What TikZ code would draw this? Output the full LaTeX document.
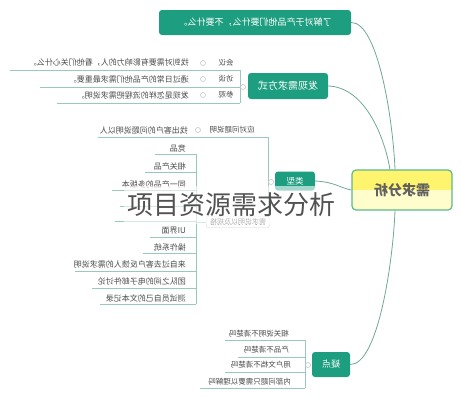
\documentclass[tikz,border=0pt]{standalone}
\usepackage{fontspec}
\setmainfont{Noto Sans CJK SC}
\usepackage{graphicx}
\newcommand\mirr[1]{\reflectbox{#1}}
\definecolor{tg}{HTML}{1E9E80}
\definecolor{ln}{HTML}{6FA898}
\definecolor{ul}{HTML}{9CC7BC}
\definecolor{tx}{HTML}{4A4A4A}
\definecolor{ybright}{HTML}{FFF46E}
\definecolor{ypale}{HTML}{FFFDCB}
\definecolor{ybord}{HTML}{5DB88A}
\begin{document}
\begin{tikzpicture}[x=1pt,y=-1pt,
 topic/.style={fill=tg, rounded corners=3pt, text=white, inner sep=0pt, font=\fontsize{9}{10}\selectfont},
 item/.style={text=tx, inner sep=0pt, font=\fontsize{8}{9}\selectfont, anchor=east},
 lab/.style={text=tx, inner sep=0pt, font=\fontsize{7.5}{9}\selectfont},
 knob/.style={circle, draw=gray!45, fill=white, inner sep=0pt, minimum size=5pt, line width=0.6pt},
 conn/.style={draw=ln, line width=0.8pt},
 uline/.style={draw=ul, line width=0.8pt},
]
\useasboundingbox (0,0) rectangle (462,400);

% centre
\begin{scope}
\clip[rounded corners=4pt] (352,170) rectangle (452,210);
\fill[ypale] (352,170) rectangle (452,210);
\fill[ybright] (352,170) rectangle (452,190);
\end{scope}
\node[draw=ybord, line width=1.2pt, rounded corners=4pt, minimum width=100pt, minimum height=40pt, inner sep=0pt, text=black!62, font=\fontsize{14}{16}\selectfont\bfseries] (cen) at (402,190) {\mirr{需求分析}};

% main topics
\node[topic, minimum width=192pt, minimum height=25pt] (top) at (255,22.5) {\mirr{了解对于产品他们要什么，不要什么。}};
\node[topic, minimum width=80pt, minimum height=26pt, font=\fontsize{10}{11}\selectfont] (fx) at (288,86) {\mirr{发现需求方式}};
\node[topic, minimum width=40pt, minimum height=19pt, font=\fontsize{8.5}{9}\selectfont] (lx) at (295,181) {\mirr{类型}};
\node[topic, minimum width=38pt, minimum height=25pt, font=\fontsize{9}{10}\selectfont] (yd) at (331,364.5) {\mirr{疑点}};

\draw[conn] (top.east) .. controls (378,22) and (393,120) .. ([xshift=-7pt]cen.north);
\draw[conn] (fx.east) .. controls (362,87) and (383,130) .. ([xshift=-12pt]cen.north);
\draw[conn] (lx.east) .. controls (335,182) and (340,188) .. (cen.west);
\draw[conn] (yd.east) .. controls (378,365) and (393,262) .. ([xshift=-7pt]cen.south);

% 发现需求方式 branch
\coordinate (f0) at (240,70);
\coordinate (f1) at (240,103);
\draw[uline] (f0) -- (f1);
\coordinate (fa) at (10,70);
\coordinate (fb) at (40,87);
\coordinate (fbb) at (240,87);
\coordinate (fc) at (57,103);
\draw[uline] (fa) -- (f0);
\draw[uline] (fb) -- (fbb);
\draw[uline] (fc) -- (f1);
\node[knob] (fk) at (243,87) {};
\node[lab] (l1) at (226,63) {\mirr{会议}};
\node[lab] (l2) at (226,79) {\mirr{访谈}};
\node[lab] (l3) at (226,95) {\mirr{参观}};
\node[knob] (k1) at (203,63) {};
\node[knob] (k2) at (203,79) {};
\node[knob] (k3) at (203,95) {};
\node[item] (t1) at (189,63) {\mirr{找到对需要有影响力的人，看他们关心什么。}};
\node[item] (t2) at (189,79) {\mirr{通过日常的产品他们需求最重要。}};
\node[item] (t3) at (189,95) {\mirr{发现是怎样的流程把需求说明。}};

% 类型 branch
\coordinate (v0) at (268,137);
\coordinate (v1) at (268,222);
\coordinate (ra) at (98,137);
\draw[uline] (ra) -- (v0) -- (v1);
\node[knob] (lk) at (271,182) {};
\node[lab] (ta) at (232,130) {\mirr{应对问题说明}};
\node[knob] (tak) at (198,130) {};
\node[item] (tat) at (188,130) {\mirr{找出客户的问题说明以人}};
\node[draw=gray!35, rounded corners=2pt, fill=white, minimum width=63pt, minimum height=11pt, inner sep=0pt, text=tx, font=\fontsize{7}{8}\selectfont] (par) at (238,222) {\mirr{需求说明以及规格}};
\coordinate (w0) at (196,154);
\coordinate (w1) at (196,304);
\coordinate (wm) at (196,222);
\draw[uline] (w0) -- (w1);
\draw[uline] (wm) -- (par.west);
\foreach \n/\xa/\ya in {a/155/154, b/145/172, c/112/190, d/120/206, e/115/221, f/150/237, g/143/253, h/75/271, i/92/288, j/100/304}{
  \coordinate (u\n) at (\xa,\ya);
  \coordinate (ue\n) at (196,\ya);
  \draw[uline] (u\n) -- (ue\n);
}
\node[item] (s1) at (186,148) {\mirr{竞品}};
\node[item] (s2) at (186,166) {\mirr{相关产品}};
\node[item] (s3) at (186,184) {\mirr{同一产品的多版本}};
\node[item] (s4) at (186,231) {\mirr{UI界面}};
\node[item] (s5) at (186,247) {\mirr{操作系统}};
\node[item] (s6) at (186,264) {\mirr{来自过去客户反馈人的需求说明}};
\node[item] (s7) at (186,281) {\mirr{团队之间的电子邮件讨论}};
\node[item] (s8) at (186,298) {\mirr{测试员自己的文本记录}};

% 疑点 branch
\coordinate (y0) at (305,340);
\coordinate (y1) at (305,388);
\draw[uline] (y0) -- (y1);
\foreach \n/\xa/\ya in {a/225/340, b/238/357, c/225/372, d/200/388}{
  \coordinate (q\n) at (\xa,\ya);
  \coordinate (qe\n) at (305,\ya);
  \draw[uline] (q\n) -- (qe\n);
}
\node[knob] (yk) at (308,365) {};
\node[item, font=\fontsize{7.5}{9}\selectfont] (d1) at (289,334) {\mirr{相关说明不清楚吗}};
\node[item, font=\fontsize{7.5}{9}\selectfont] (d2) at (289,350) {\mirr{产品不清楚吗}};
\node[item, font=\fontsize{7.5}{9}\selectfont] (d3) at (291,365) {\mirr{用户文档不清楚吗}};
\node[item, font=\fontsize{7.5}{9}\selectfont] (d4) at (291,382) {\mirr{内部问题只需要以理解吗}};

% title overlay
\node[fill=white, fill opacity=0.6, text opacity=1, inner sep=0pt, minimum width=215pt, minimum height=38pt, text=black!68, font=\fontsize{26}{28}\selectfont] (title) at (231,205) {项目资源需求分析};
\end{tikzpicture}
\end{document}
